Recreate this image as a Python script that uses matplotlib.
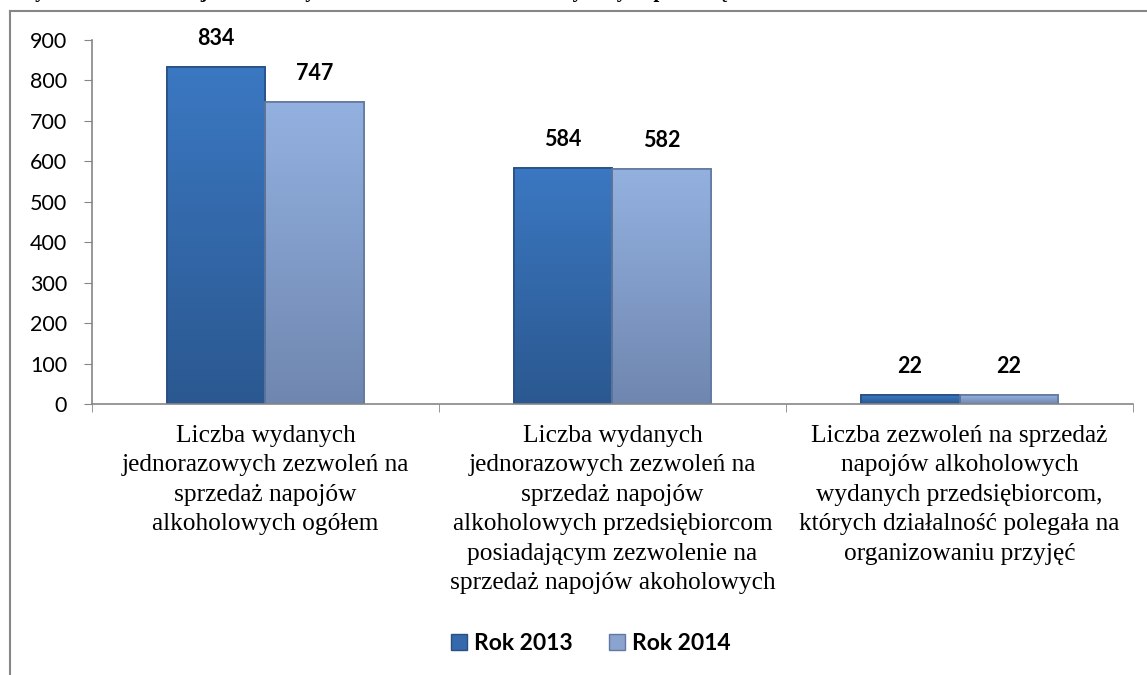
import numpy as np
import matplotlib.pyplot as plt
from matplotlib.lines import Line2D
from matplotlib.patches import Patch
from matplotlib.colors import LinearSegmentedColormap

categories = [
    'Liczba wydanych\njednorazowych zezwoleń na\nsprzedaż napojów\nalkoholowych ogółem',
    'Liczba wydanych\njednorazowych zezwoleń na\nsprzedaż napojów\nalkoholowych przedsiębiorcom\n'
    'posiadającym zezwolenie na\nsprzedaż napojów akoholowych',
    'Liczba zezwoleń na sprzedaż\nnapojów alkoholowych\nwydanych przedsiębiorcom,\n'
    'których działalność polegała na\norganizowaniu przyjęć',
]
rok_2013 = [834, 584, 22]
rok_2014 = [747, 582, 22]
series_names = ['Rok 2013', 'Rok 2014']
yticks = [0, 100, 200, 300, 400, 500, 600, 700, 800, 900]

c2013 = '#3569ab'
c2014 = '#8aa3cf'
edge2013 = '#284f82'
edge2014 = '#62799e'
axis_col = '#868686'

fig = plt.figure(figsize=(11.47, 6.75), dpi=100)
ax = fig.add_axes([0.0802, 0.4015, 0.9076, 0.5392])

x = np.arange(len(categories))
w = 0.285
b1 = ax.bar(x - w / 2, rok_2013, w, color=c2013, edgecolor=edge2013, linewidth=1.2, zorder=2)
b2 = ax.bar(x + w / 2, rok_2014, w, color=c2014, edgecolor=edge2014, linewidth=1.2, zorder=2)

# soft vertical shading inside the bars
grad = np.linspace(1, 0, 256).reshape(-1, 1)
cmaps = [LinearSegmentedColormap.from_list('g13', ['#2b5890', '#3b78c2']),
         LinearSegmentedColormap.from_list('g14', ['#6f87b0', '#93b1e0'])]
for bars, cm in zip((b1, b2), cmaps):
    for r in bars:
        x0, y0, bw, bh = r.get_x(), r.get_y(), r.get_width(), r.get_height()
        im = ax.imshow(grad, cmap=cm, aspect='auto', extent=(x0, x0 + bw, y0, y0 + bh),
                       zorder=2.5, vmin=0, vmax=1)
        im.set_clip_path(r)
        ax.bar(x0 + bw / 2, bh, bw, fill=False, edgecolor=r.get_edgecolor(), linewidth=1.2, zorder=3)

for bars in (b1, b2):
    for r in bars:
        ax.annotate(str(int(r.get_height())), (r.get_x() + r.get_width() / 2, r.get_height()),
                    xytext=(0, 13), textcoords='offset points', ha='center', va='bottom',
                    fontsize=15.5, fontweight='bold', family='Lato')

ax.set_xlim(-0.5, len(categories) - 0.5)
ax.set_ylim(0, 900)
ax.set_yticks(yticks)
ax.tick_params(axis='y', labelsize=15.5, length=6, color=axis_col, pad=12)
for t in ax.get_yticklabels():
    t.set_family('Lato')

ax.set_xticks(x)
ax.set_xticklabels(categories, family='Liberation Serif', fontsize=18.3, linespacing=1.44)
ax.set_xticks(np.arange(len(categories) + 1) - 0.5, minor=True)
ax.tick_params(axis='x', which='major', length=0, pad=15)
ax.tick_params(axis='x', which='minor', length=6, color=axis_col)

for s in ['top', 'right']:
    ax.spines[s].set_visible(False)
for s in ['left', 'bottom']:
    ax.spines[s].set_color(axis_col)
    ax.spines[s].set_linewidth(1.2)
    ax.spines[s].set_zorder(4)

handles = [Patch(facecolor=c2013, edgecolor=edge2013), Patch(facecolor=c2014, edgecolor=edge2014)]
fig.legend(handles, series_names, loc='center', bbox_to_anchor=(0.515, 0.047), ncol=2,
           frameon=False, prop={'family': 'Lato', 'weight': 'bold', 'size': 16.5},
           handlelength=0.7, handleheight=0.7, handletextpad=0.3, columnspacing=1.6)

# outer frame (top and left edge visible)
fig.add_artist(Line2D([10 / 1147, 1.0], [1 - 11 / 675, 1 - 11 / 675], color=axis_col, linewidth=1.5))
fig.add_artist(Line2D([10 / 1147, 10 / 1147], [0, 1 - 11 / 675], color=axis_col, linewidth=1.5))

# title, cut off by the top edge of the image
fig.text(0.013, 1 + 3 / 675, 'Wykres nr 1. Liczba jednorazowych zezwoleń oraz zezwoleń wydanych przedsiębiorcom',
         family='Liberation Serif', fontweight='bold', fontsize=15, va='baseline', ha='left')

fig.savefig('out.png', dpi=100)
